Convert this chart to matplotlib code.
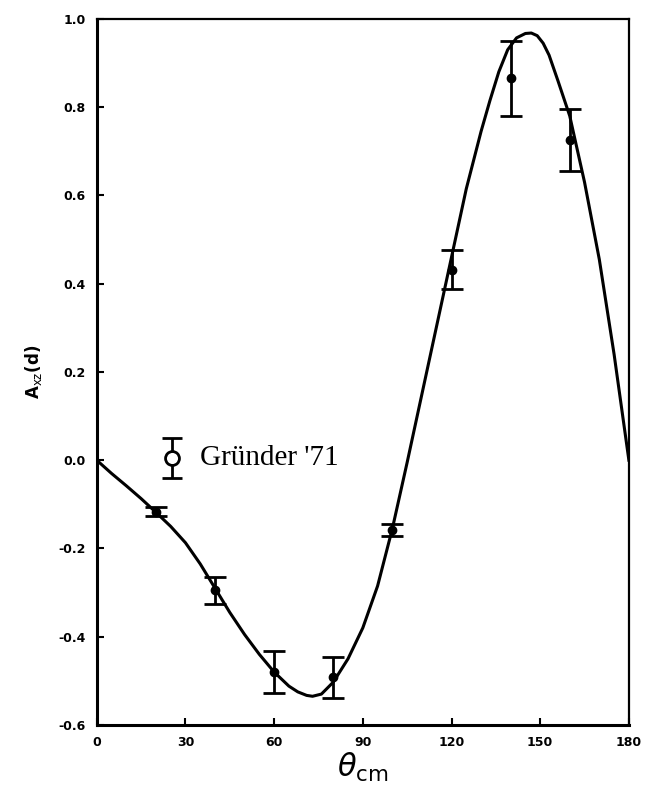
import matplotlib
matplotlib.use("Agg")
import numpy as np
import matplotlib.pyplot as plt

# theoretical curve
curve_theta = [0, 5, 10, 15, 20, 25, 30, 35, 40, 45, 50, 55, 60, 65, 68, 71,
               73, 76, 80, 85, 90, 95, 100, 105, 110, 115, 120, 125, 130, 133,
               136, 139, 142, 145, 147, 149, 151, 153, 156, 160, 165, 170,
               175, 180]
curve_axz = [0.0, -0.03, -0.058, -0.087, -0.118, -0.15, -0.187, -0.235,
             -0.29, -0.345, -0.395, -0.44, -0.48, -0.512, -0.525, -0.533,
             -0.535, -0.530, -0.503, -0.45, -0.38, -0.285, -0.155, -0.005,
             0.15, 0.305, 0.46, 0.615, 0.745, 0.815, 0.88, 0.93, 0.957,
             0.967, 0.968, 0.962, 0.945, 0.918, 0.86, 0.78, 0.63, 0.455,
             0.24, 0.0]

# Gruender '71 data
data_theta = [20, 40, 60, 80, 100, 120, 140, 160]
data_axz = [-0.117, -0.295, -0.48, -0.492, -0.158, 0.432, 0.866, 0.725]
data_err = [0.01, 0.03, 0.048, 0.047, 0.013, 0.045, 0.085, 0.07]

xticks = [0, 30, 60, 90, 120, 150, 180]
yticks = [-0.6, -0.4, -0.2, 0.0, 0.2, 0.4, 0.6, 0.8, 1.0]

fig = plt.figure(figsize=(6.45, 7.88), dpi=100)
ax = fig.add_axes([0.150, 0.080, 0.825, 0.896])

ax.plot(curve_theta, curve_axz, color="black", lw=2.2, solid_joinstyle="round")
ax.errorbar(data_theta, data_axz, yerr=data_err, fmt="o", color="black",
            ms=6, elinewidth=2, capsize=8, capthick=2)

# legend entry drawn by hand
ax.errorbar([25.5], [0.005], yerr=[0.045], fmt="o", mfc="white", mec="black",
            color="black", ms=10, mew=2, elinewidth=2, capsize=7, capthick=2)
ax.text(35, 0.005, "Gründer '71", fontsize=21, family="Liberation Serif",
        va="center", ha="left")

ax.set_xlim(0, 180)
ax.set_ylim(-0.6, 1.0)
ax.set_xticks(xticks)
ax.set_yticks(yticks)
ax.set_xticklabels([str(t) for t in xticks], fontweight="bold", fontsize=9)
ax.set_yticklabels(["%.1f" % t for t in yticks], fontweight="bold", fontsize=9)
ax.tick_params(direction="in", length=5, width=1.5, top=False, right=False, pad=8)

for side in ["left", "bottom"]:
    ax.spines[side].set_linewidth(2.2)
for side in ["top", "right"]:
    ax.spines[side].set_linewidth(1.6)

ax.set_xlabel(r"$\theta_{\rm cm}$", fontsize=22, labelpad=1)
ax.set_ylabel(r"A$_{\rm xz}$(d)", fontsize=12, fontweight="bold", labelpad=10)

fig.savefig("out.png", dpi=100)
